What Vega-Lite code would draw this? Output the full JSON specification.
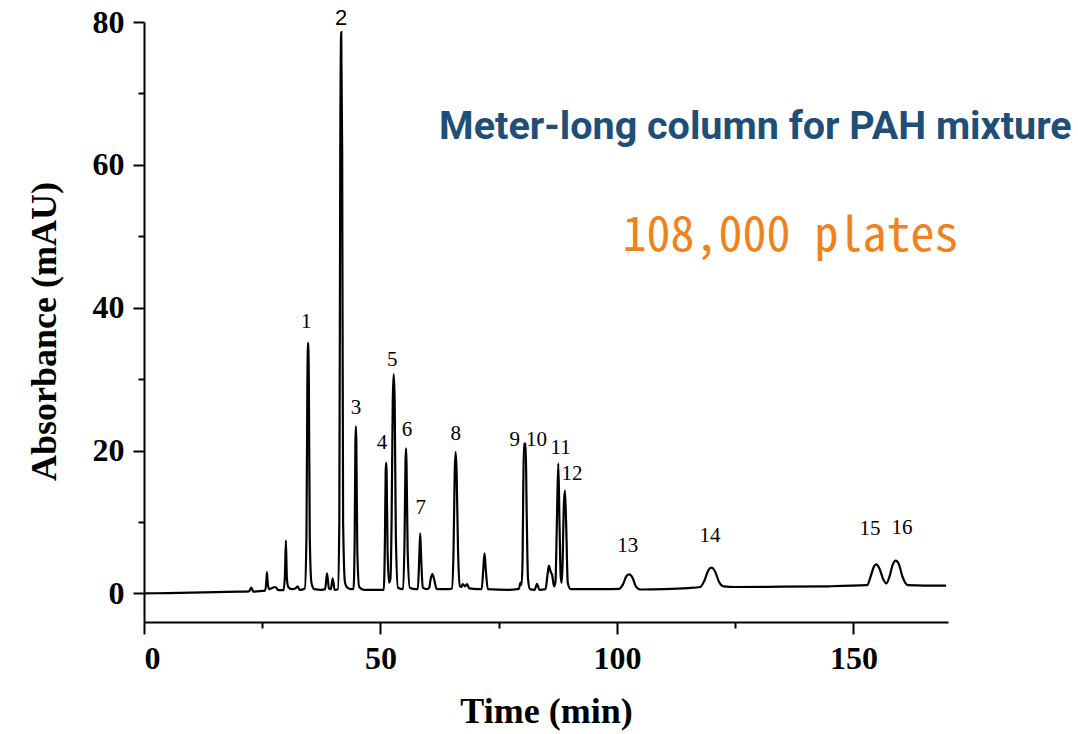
{
  "$schema": "https://vega.github.io/schema/vega-lite/v6.json",
  "autosize": "none",
  "width": 804,
  "height": 600,
  "padding": {"left": 144, "top": 22, "right": 130, "bottom": 112},
  "background": "white",
  "config": {"view": {"stroke": null}},
  "datasets": {
    "chrom": [
      {"t":0,"a":0},{"t":5,"a":0.05},{"t":10,"a":0.1},{"t":15,"a":0.18},{"t":20,"a":0.25},{"t":22.2,"a":0.3},{"t":22.7,"a":0.8},{"t":23.1,"a":0.25},{"t":24,"a":0.3},
      {"t":25.6,"a":0.4},{"t":25.85,"a":1.5},{"t":26.0,"a":3.0},{"t":26.2,"a":1.2},{"t":26.5,"a":0.6},{"t":27.2,"a":0.8},{"t":27.8,"a":0.9},{"t":28.4,"a":0.45},
      {"t":29.5,"a":0.45},{"t":29.8,"a":2.5},{"t":30.0,"a":7.4},{"t":30.2,"a":2.3},{"t":30.5,"a":0.9},{"t":31.2,"a":0.6},{"t":32.0,"a":0.7},{"t":32.5,"a":1.0},{"t":32.9,"a":0.5},
      {"t":34.0,"a":0.7},{"t":34.35,"a":8},{"t":34.55,"a":30},{"t":34.7,"a":35.1},{"t":34.85,"a":30},{"t":35.05,"a":8},{"t":35.4,"a":1.5},{"t":36,"a":0.6},{"t":37.5,"a":0.5},
      {"t":38.3,"a":0.6},{"t":38.7,"a":2.8},{"t":39.1,"a":0.7},{"t":39.5,"a":0.6},{"t":39.9,"a":2.1},{"t":40.3,"a":0.5},
      {"t":41.0,"a":0.6},{"t":41.3,"a":10},{"t":41.5,"a":62},{"t":41.7,"a":78.6},{"t":41.9,"a":62},{"t":42.1,"a":10},{"t":42.5,"a":1.5},{"t":43,"a":0.8},{"t":43.8,"a":0.6},
      {"t":44.3,"a":0.6},{"t":44.55,"a":8},{"t":44.7,"a":21},{"t":44.8,"a":23.4},{"t":44.9,"a":21},{"t":45.1,"a":6},{"t":45.5,"a":0.9},{"t":46.5,"a":0.5},{"t":48,"a":0.5},{"t":50,"a":0.5},
      {"t":50.7,"a":0.5},{"t":50.95,"a":8},{"t":51.1,"a":17},{"t":51.2,"a":18.3},{"t":51.3,"a":17},{"t":51.5,"a":6},{"t":51.8,"a":1.5},
      {"t":52.1,"a":2},{"t":52.35,"a":10},{"t":52.6,"a":27},{"t":52.8,"a":30.7},{"t":53.0,"a":27},{"t":53.25,"a":8},{"t":53.7,"a":0.8},
      {"t":54.8,"a":0.6},{"t":55.1,"a":8},{"t":55.3,"a":18.5},{"t":55.4,"a":20.3},{"t":55.5,"a":18.5},{"t":55.75,"a":6},{"t":56.2,"a":0.8},{"t":57.5,"a":0.6},
      {"t":57.9,"a":0.6},{"t":58.2,"a":5},{"t":58.4,"a":8.4},{"t":58.6,"a":5},{"t":58.95,"a":0.8},{"t":59.8,"a":0.6},
      {"t":60.3,"a":0.8},{"t":60.6,"a":2.0},{"t":61.0,"a":2.7},{"t":61.4,"a":1.8},{"t":61.9,"a":0.6},{"t":64.5,"a":0.6},
      {"t":65.1,"a":0.7},{"t":65.45,"a":6},{"t":65.7,"a":17},{"t":65.9,"a":19.8},{"t":66.1,"a":17},{"t":66.4,"a":6},{"t":66.8,"a":1.0},{"t":67.1,"a":0.9},
      {"t":67.4,"a":1.3},{"t":67.9,"a":1.0},{"t":68.3,"a":1.3},{"t":68.8,"a":0.7},{"t":70.5,"a":0.6},
      {"t":71.4,"a":0.6},{"t":71.75,"a":3.5},{"t":72.0,"a":5.6},{"t":72.25,"a":3.5},{"t":72.7,"a":0.6},{"t":77,"a":0.5},{"t":79,"a":0.6},
      {"t":79.3,"a":0.7},{"t":79.6,"a":1.5},{"t":79.85,"a":1.2},{"t":80.05,"a":5},{"t":80.2,"a":15},{"t":80.35,"a":21},{"t":80.55,"a":20.5},{"t":80.7,"a":21},{"t":80.9,"a":12},{"t":81.2,"a":2},{"t":81.6,"a":0.6},
      {"t":82.6,"a":0.5},{"t":83.1,"a":1.35},{"t":83.6,"a":0.5},
      {"t":84.9,"a":0.6},{"t":85.3,"a":2.5},{"t":85.6,"a":3.9},{"t":86.0,"a":3.0},{"t":86.3,"a":2.6},{"t":86.7,"a":1.0},
      {"t":87.0,"a":1.6},{"t":87.3,"a":10},{"t":87.6,"a":18.2},{"t":87.85,"a":10},{"t":88.1,"a":2.5},{"t":88.3,"a":1.5},
      {"t":88.5,"a":4},{"t":88.75,"a":12},{"t":89.0,"a":14.4},{"t":89.25,"a":10},{"t":89.6,"a":1.5},{"t":90.2,"a":0.6},{"t":93,"a":0.6},{"t":97,"a":0.6},
      {"t":100.5,"a":0.65},{"t":101.3,"a":1.3},{"t":102.0,"a":2.4},{"t":102.6,"a":2.66},{"t":103.3,"a":2.2},{"t":104.0,"a":1.0},{"t":105,"a":0.55},{"t":110,"a":0.6},{"t":115,"a":0.75},
      {"t":117.6,"a":0.9},{"t":118.5,"a":1.8},{"t":119.3,"a":3.2},{"t":120.0,"a":3.6},{"t":120.8,"a":3.0},{"t":121.6,"a":1.6},{"t":122.5,"a":1.0},{"t":125,"a":0.9},{"t":135,"a":0.95},{"t":145,"a":1.0},
      {"t":152.9,"a":1.15},{"t":153.7,"a":2.5},{"t":154.3,"a":3.7},{"t":154.85,"a":4.06},{"t":155.5,"a":3.5},{"t":156.3,"a":2.0},{"t":156.96,"a":1.4},
      {"t":157.6,"a":2.3},{"t":158.3,"a":4.0},{"t":158.95,"a":4.6},{"t":159.6,"a":4.1},{"t":160.4,"a":2.3},{"t":161.5,"a":1.15},{"t":165,"a":1.1},{"t":169.6,"a":1.1}
    ],
    "peaks": [
      {"label":"1","t":34.3,"a":37.95},
      {"label":"2","t":41.7,"a":80.5},
      {"label":"3","t":44.8,"a":25.9},
      {"label":"4","t":50.3,"a":21.1},
      {"label":"5","t":52.5,"a":32.7},
      {"label":"6","t":55.6,"a":22.9},
      {"label":"7","t":58.5,"a":12.0},
      {"label":"8","t":65.9,"a":22.3},
      {"label":"9","t":78.4,"a":21.5},
      {"label":"10","t":83.0,"a":21.5},
      {"label":"11","t":88.1,"a":20.4},
      {"label":"12","t":90.5,"a":16.7},
      {"label":"13","t":102.3,"a":6.6},
      {"label":"14","t":119.7,"a":8.0},
      {"label":"15","t":153.5,"a":9.0},
      {"label":"16","t":160.3,"a":9.2}
    ],
    "heading": [{"text":"Meter-long column for PAH mixture","t":62.4,"a":63.6}],
    "plates": [{"text":"108,000 plates","t":101.2,"a":47.9}]
  },
  "resolve": {"axis": {"x": "independent", "y": "independent"}},
  "layer": [
    {
      "data": {"name": "chrom"},
      "mark": {"type": "line", "color": "black", "strokeWidth": 2.2, "interpolate": "monotone", "clip": true},
      "encoding": {
        "x": {"field": "t", "type": "quantitative",
              "scale": {"domain": [0, 170], "nice": false, "zero": false},
              "axis": {"orient": "bottom", "values": [0, 50, 100, 150], "format": "d", "grid": false,
                       "domainColor": "black", "domainWidth": 2, "tickColor": "black", "tickWidth": 2, "tickSize": 12,
                       "labelFont": "Liberation Serif", "labelFontWeight": "bold", "labelFontSize": 32, "labelColor": "black", "labelPadding": 9,
                       "title": "Time (min)", "titleFont": "Liberation Serif", "titleFontWeight": "bold", "titleFontSize": 36, "titleColor": "black",
                       "titleBaseline": "alphabetic", "titleY": 100}},
        "y": {"field": "a", "type": "quantitative",
              "scale": {"domain": [-4, 80], "nice": false, "zero": false},
              "axis": {"orient": "left", "values": [0, 20, 40, 60, 80], "format": "d", "grid": false,
                       "domainColor": "black", "domainWidth": 2, "tickColor": "black", "tickWidth": 2, "tickSize": 11,
                       "labelFont": "Liberation Serif", "labelFontWeight": "bold", "labelFontSize": 32, "labelColor": "black", "labelPadding": 9,
                       "title": "Absorbance (mAU)", "titleFont": "Liberation Serif", "titleFontWeight": "bold", "titleFontSize": 36, "titleColor": "black",
                       "titleAngle": -90, "titleBaseline": "alphabetic", "titleX": -89, "titleY": 309}}
      }
    },
    {
      "data": {"name": "chrom"},
      "mark": {"type": "line", "opacity": 0},
      "encoding": {
        "x": {"field": "t", "type": "quantitative",
              "axis": {"orient": "bottom", "values": [25, 75, 125], "labels": false, "domain": false, "grid": false, "title": null,
                       "tickColor": "black", "tickWidth": 2, "tickSize": 6}},
        "y": {"field": "a", "type": "quantitative",
              "axis": {"orient": "left", "values": [10, 30, 50, 70], "labels": false, "domain": false, "grid": false, "title": null,
                       "tickColor": "black", "tickWidth": 2, "tickSize": 6}}
      }
    },
    {
      "data": {"name": "peaks"},
      "transform": [{"filter": "datum.label != '2'"}],
      "mark": {"type": "text", "font": "Liberation Serif", "fontSize": 21, "color": "black", "align": "center", "baseline": "middle"},
      "encoding": {
        "x": {"field": "t", "type": "quantitative", "axis": null},
        "y": {"field": "a", "type": "quantitative", "axis": null},
        "text": {"field": "label"}
      }
    },
    {
      "data": {"name": "peaks"},
      "transform": [{"filter": "datum.label == '2'"}],
      "mark": {"type": "text", "font": "Liberation Sans", "fontSize": 22, "color": "black", "align": "center", "baseline": "middle"},
      "encoding": {
        "x": {"field": "t", "type": "quantitative", "axis": null},
        "y": {"field": "a", "type": "quantitative", "axis": null},
        "text": {"field": "label"}
      }
    },
    {
      "data": {"name": "heading"},
      "mark": {"type": "text", "font": "Roboto", "fontWeight": "bold", "fontSize": 39.5, "color": "#1f4e79", "align": "left", "baseline": "alphabetic"},
      "encoding": {
        "x": {"field": "t", "type": "quantitative", "axis": null},
        "y": {"field": "a", "type": "quantitative", "axis": null},
        "text": {"field": "text"}
      }
    },
    {
      "data": {"name": "plates"},
      "mark": {"type": "text", "font": "Noto Sans Mono CJK SC", "fontSize": 48, "color": "#f0821e", "align": "left", "baseline": "alphabetic"},
      "encoding": {
        "x": {"field": "t", "type": "quantitative", "axis": null},
        "y": {"field": "a", "type": "quantitative", "axis": null},
        "text": {"field": "text"}
      }
    }
  ]
}
